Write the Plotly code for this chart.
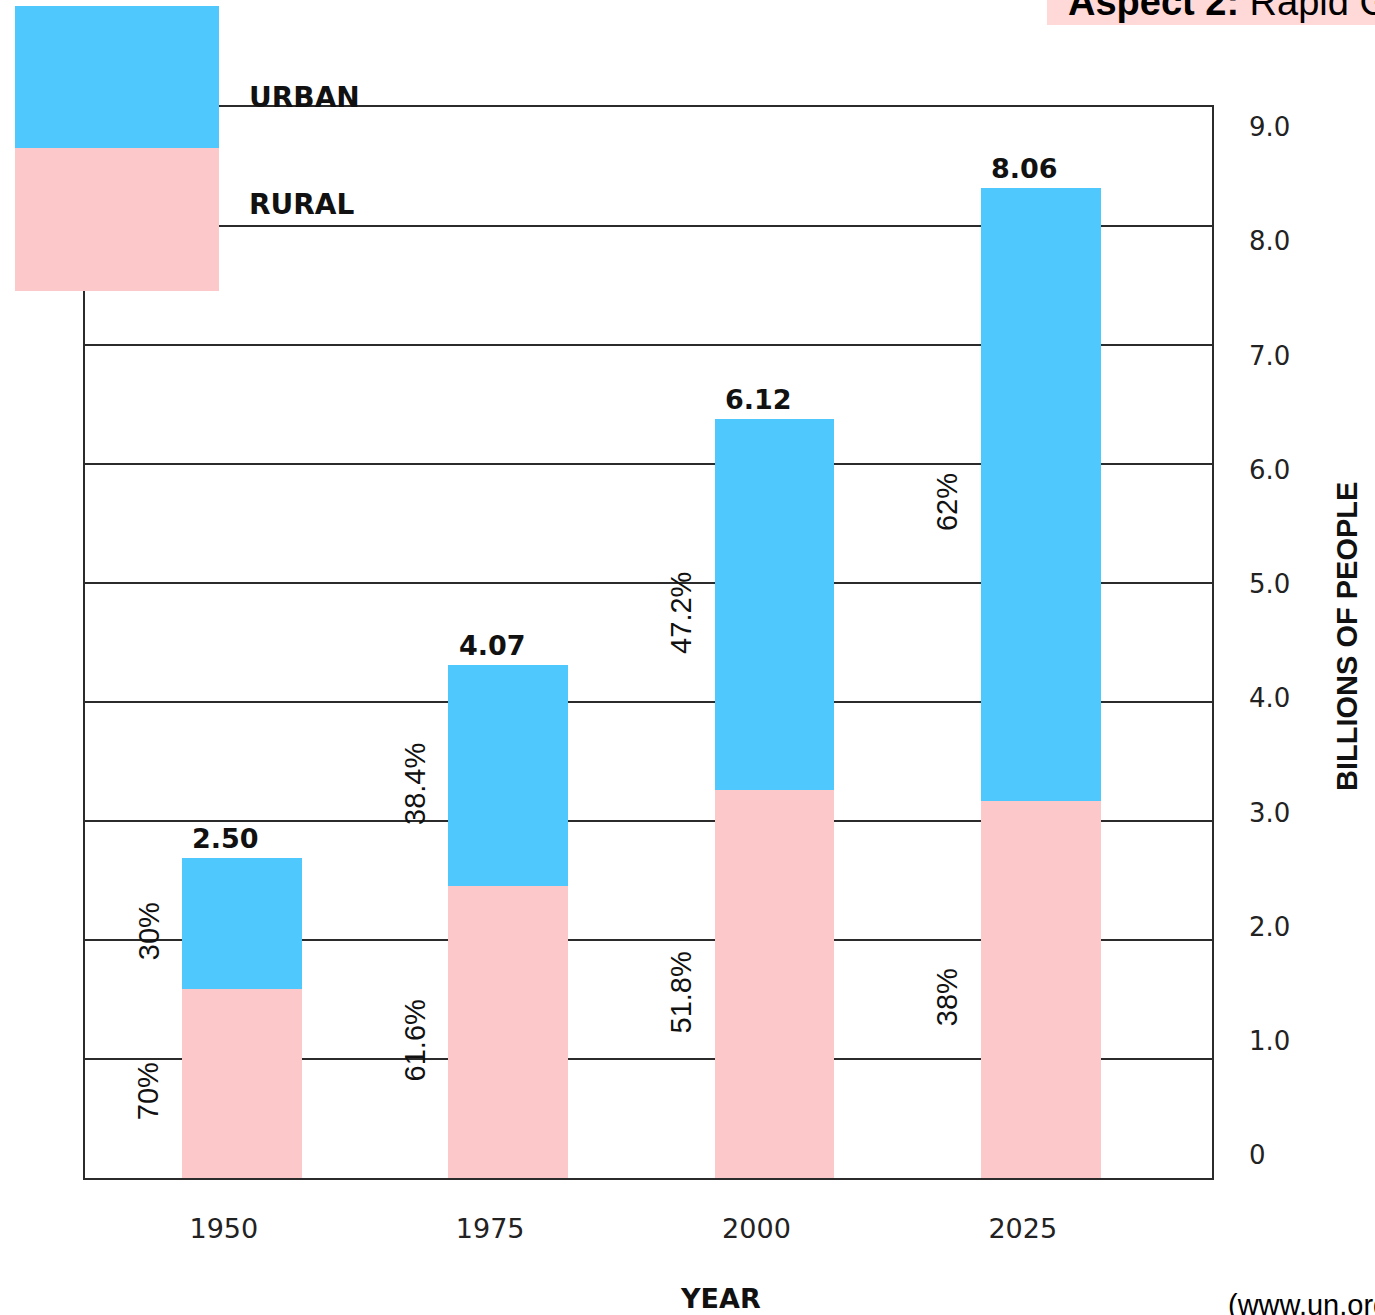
import plotly.graph_objects as go

# ---- data ----
years = ['1950', '1975', '2000', '2025']
rural = [1.59, 2.45, 3.26, 3.17]          # drawn height of rural segment (billions)
urban = [1.10, 1.86, 3.12, 5.15]          # drawn height of urban segment (billions)
total_labels = ['2.50', '4.07', '6.12', '8.06']
rural_pct = ['70%', '61.6%', '51.8%', '38%']
urban_pct = ['30%', '38.4%', '47.2%', '62%']
ytick_vals = [0, 1, 2, 3, 4, 5, 6, 7, 8, 9]
ytick_text = ['0', '1.0', '2.0', '3.0', '4.0', '5.0', '6.0', '7.0', '8.0', '9.0']

BLUE = '#4FC8FE'
PINK = '#FDC8CA'
LINE = '#2b2b2b'
FONT = 'Liberation Sans, Arial, sans-serif'
WIDE = 'DejaVu Sans, sans-serif'

fig = go.Figure()
fig.add_trace(go.Bar(x=years, y=rural, name='RURAL', marker=dict(color=PINK, line=dict(width=0)),
                     width=0.45, showlegend=False, hoverinfo='skip'))
fig.add_trace(go.Bar(x=years, y=urban, name='URBAN', marker=dict(color=BLUE, line=dict(width=0)),
                     width=0.45, showlegend=False, hoverinfo='skip'))
# invisible trace to carry the right-hand label axis
fig.add_trace(go.Scatter(x=[years[0]], y=[0], yaxis='y2', mode='markers', opacity=0,
                         showlegend=False, hoverinfo='skip'))

annotations = []
tops = [r + u for r, u in zip(rural, urban)]
for i, (r, u, t, tl, rp, up) in enumerate(zip(rural, urban, tops, total_labels, rural_pct, urban_pct)):
    annotations.append(dict(x=i, y=t, text='<b>%s</b>' % tl, showarrow=False, yanchor='bottom',
                            xshift=-16, yshift=2, font=dict(family=WIDE, size=27, color='#111')))
    annotations.append(dict(x=i, y=r / 2, text=rp, showarrow=False, textangle=-90,
                            xshift=-93, yshift=-8, font=dict(family=FONT, size=29, color='#111')))
    annotations.append(dict(x=i, y=r + u / 2, text=up, showarrow=False, textangle=-90,
                            xshift=-93, yshift=-8, font=dict(family=FONT, size=29, color='#111')))

# legend labels and titles
annotations += [
    dict(xref='paper', yref='paper', x=(247 - 85) / 1127, y=(1178 - 97) / 1071, xanchor='left',
         yanchor='middle', text='<b>URBAN</b>', showarrow=False,
         font=dict(family=WIDE, size=28, color='#111')),
    dict(xref='paper', yref='paper', x=(247 - 85) / 1127, y=(1178 - 204) / 1071, xanchor='left',
         yanchor='middle', text='<b>RURAL</b>', showarrow=False,
         font=dict(family=WIDE, size=28, color='#111')),
    dict(xref='paper', yref='paper', x=(720 - 85) / 1127, y=(1178 - 1298) / 1071, xanchor='center',
         yanchor='middle', text='<b>YEAR</b>', showarrow=False,
         font=dict(family=WIDE, size=27, color='#111')),
    dict(xref='paper', yref='paper', x=(1347 - 85) / 1127, y=(1178 - 637) / 1071, xanchor='center',
         yanchor='middle', text='<b>BILLIONS OF PEOPLE</b>', textangle=-90, showarrow=False,
         font=dict(family=FONT, size=29, color='#111')),
    dict(xref='paper', yref='paper', x=(1066 - 85) / 1127, y=(1178 - 25) / 1071, xanchor='left',
         yanchor='bottom', text='<b>Aspect 2:</b> Rapid Growth', showarrow=False,
         font=dict(family=FONT, size=38, color='#000')),
    dict(xref='paper', yref='paper', x=(1226 - 85) / 1127, y=(1178 - 1305) / 1071, xanchor='left',
         yanchor='middle', text='(www.un.org)', showarrow=False,
         font=dict(family=FONT, size=29, color='#000')),
]

shapes = [
    dict(type='rect', xref='paper', yref='paper', x0=(1047 - 85) / 1127, x1=(1400 - 85) / 1127,
         y0=(1178 - 25) / 1071, y1=(1178 + 20) / 1071, fillcolor='#FFD8D8', line=dict(width=0),
         layer='below'),
    dict(type='rect', xref='paper', yref='paper', x0=(15 - 85) / 1127, x1=(219 - 85) / 1127,
         y0=(1178 - 148) / 1071, y1=(1178 - 6) / 1071, fillcolor=BLUE, line=dict(width=0),
         layer='above'),
    dict(type='rect', xref='paper', yref='paper', x0=(15 - 85) / 1127, x1=(219 - 85) / 1127,
         y0=(1178 - 291) / 1071, y1=(1178 - 148) / 1071, fillcolor=PINK, line=dict(width=0),
         layer='above'),
]

fig.update_layout(
    width=1375, height=1315,
    margin=dict(l=85, r=163, t=107, b=137, autoexpand=False),
    paper_bgcolor='white', plot_bgcolor='white',
    barmode='stack', bargap=0,
    showlegend=False,
    xaxis=dict(type='category', range=[-0.589, 3.643], showgrid=False, zeroline=False,
               showline=True, mirror=True, linecolor=LINE, linewidth=2, ticks='',
               tickfont=dict(family=WIDE, size=27, color='#222'),
               ticklabelstandoff=26, ticklabelshift=-18),
    yaxis=dict(range=[0, 9], tickvals=ytick_vals, showticklabels=False, showgrid=True,
               gridcolor=LINE, gridwidth=2, zeroline=False, showline=True, mirror=True,
               linecolor=LINE, linewidth=2, ticks=''),
    yaxis2=dict(overlaying='y', side='right', anchor='x', range=[-0.2, 9.175],
                tickvals=ytick_vals, ticktext=ytick_text, showgrid=False, zeroline=False,
                showline=False, ticks='', ticklabelstandoff=36,
                tickfont=dict(family=WIDE, size=26, color='#222')),
    annotations=annotations,
    shapes=shapes,
)

fig.write_html('out.html')
